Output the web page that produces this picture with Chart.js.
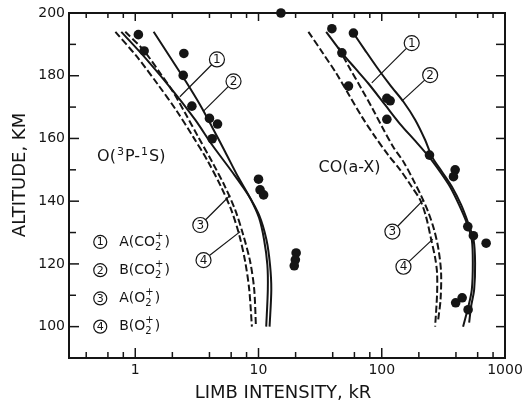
<!DOCTYPE html>
<html>
<head>
<meta charset="utf-8">
<script src="https://cdn.jsdelivr.net/npm/chart.js@4.4.1/dist/chart.umd.min.js"></script>
<style>
  html, body { margin: 0; padding: 0; background: #fff; }
  #box { width: 531px; height: 405px; }
</style>
</head>
<body>
<div id="box"><canvas id="grafico"></canvas></div>
<script>
// curve di modello: [intensita' kR, quota km]
// O(3P-1S)
var oCurve1 = [[0.77,194],[1.25,185],[2.03,175.1],[3.07,165.9],[4.21,157.9],[6.12,149.3],[8.25,142],[10.1,135.6],[11.6,127.7],[12.4,119.7],[12.7,111.8],[12.3,100]];
var oCurve2 = [[1.41,194],[1.92,185.9],[2.59,178],[3.37,170.6],[4.21,163.6],[5.37,155.7],[6.84,147.7],[8.56,141],[10.1,134.7],[11.1,127.7],[11.8,119.7],[11.9,111.8],[11.55,100]];
var oCurve3 = [[0.69,194],[1.04,185.9],[1.54,177],[2.15,169],[2.95,160.5],[3.91,152.5],[4.98,144.5],[6.01,137.2],[6.97,129.3],[7.8,120.7],[8.41,111.8],[8.84,100]];
var oCurve4 = [[0.83,194],[1.17,188.1],[1.6,180.7],[2.03,174.8],[2.54,168.1],[3.24,160.5],[4.21,152.5],[5.37,144.5],[6.47,137.2],[7.51,129.3],[8.56,120.7],[9.23,111.8],[9.53,100]];
// CO(a-X)
var coCurve1 = [[35.4,194],[47.5,187.3],[60.8,182.4],[77.6,177.6],[107,170.6],[141,164.6],[187,159.2],[242,154.1],[298,149.3],[359,144.5],[424,138.8],[490,133],[538,127.7],[548,120.3],[538,111.8],[505,106.5],[457,100]];
var coCurve2 = [[58.9,193.6],[73.3,188.1],[91.3,182.7],[117,177],[150,171.7],[187,165.9],[225,159.5],[256,154.1],[309,149.3],[372,144.5],[441,138.8],[502,133.1],[556,127.7],[572,120.3],[562,111.8],[531,106.5],[512,101.3]];
var coCurve3 = [[25.4,194],[32.9,187.5],[42.7,180.8],[54.4,173.8],[69.3,166.8],[88.4,160.5],[113,154.7],[141,150],[173,144.9],[205,140.4],[229,135],[252,127.7],[271,122],[281,117.2],[281,110.2],[271,100]];
var coCurve4 = [[44.3,189.1],[54.4,182.7],[68.1,176],[83.6,169.7],[101,163.6],[124,157.3],[152,152.2],[180,146.8],[209,141.7],[238,136.6],[266,130.9],[289,124.5],[303,117.2],[300,108.6],[287,102.2]];

// misure (punti neri)
var oDots = [[1.06,193.1],[1.18,187.9],[2.48,187.1],[2.45,180.1],[2.88,170.3],[4.0,166.4],[4.65,164.6],[4.21,159.9],[10.0,147],[10.3,143.6],[11.0,142],[20.2,123.5],[19.9,121.3],[19.5,119.4],[15.2,200]];
var coDots = [[39.4,195],[58.9,193.6],[47.5,187.3],[53.7,176.7],[110,172.8],[117,172],[110,166.1],[244,154.7],[394,150],[382,147.8],[499,131.9],[554,129],[703,126.6],[398,107.6],[449,109.2],[502,105.4]];

// assi
var xLabels = [1, 10, 100, 1000];
var xMinor = [0.4, 0.6, 0.8, 2, 4, 6, 8, 20, 40, 60, 80, 200, 400, 600, 800];
var yLabels = [100, 120, 140, 160, 180, 200];
var yMinor = [110, 130, 150, 170, 190];

// legenda
var legendNums = ['1', '2', '3', '4'];
var legendNames = ['A(CO', 'B(CO', 'A(O', 'B(O'];

// etichette cerchiate con freccia: posizione del cerchio e punto indicato
var oTags = [
  {n: '1', at: [4.6, 185.2], to: [2.3, 173.3]},
  {n: '2', at: [6.27, 178.2], to: [3.58, 168.7]},
  {n: '3', at: [3.37, 132.4], to: [5.89, 141.9]},
  {n: '4', at: [3.58, 121.2], to: [7.1, 130.3]}
];
var coTags = [
  {n: '1', at: [175, 190.4], to: [83, 177.7]},
  {n: '2', at: [247, 180.2], to: [145.5, 171.9]},
  {n: '3', at: [122, 130.3], to: [218, 140.4]},
  {n: '4', at: [150, 119.1], to: [259.6, 127.9]}
];

var ink = '#151515';
var fam = '"DejaVu Sans", sans-serif';

function punti(arr) {
  return arr.map(function(p){ return {x: p[0], y: p[1]}; });
}

function curva(arr, tratteggio) {
  return {
    type: 'line',
    data: punti(arr),
    showLine: true,
    borderColor: ink,
    borderWidth: 2,
    borderDash: tratteggio ? [7, 3] : [],
    pointRadius: 0,
    tension: 0.3,
    fill: false
  };
}

function puntini(arr) {
  return {
    type: 'scatter',
    data: punti(arr),
    pointRadius: 4.8,
    pointBackgroundColor: ink,
    pointBorderColor: ink,
    pointBorderWidth: 0,
    clip: false
  };
}

function linea(ctx, x1, y1, x2, y2) {
  ctx.beginPath();
  ctx.moveTo(x1, y1);
  ctx.lineTo(x2, y2);
  ctx.stroke();
}

function cerchietto(ctx, x, y, r, n, size) {
  ctx.beginPath();
  ctx.arc(x, y, r, 0, Math.PI * 2);
  ctx.fillStyle = '#fff';
  ctx.fill();
  ctx.stroke();
  ctx.fillStyle = ink;
  ctx.font = size + 'px ' + fam;
  ctx.textAlign = 'center';
  ctx.textBaseline = 'middle';
  ctx.fillText(n, x, y + 0.5);
}

// scrive pezzi di testo con apici/pedici
function formula(ctx, x, y, pezzi) {
  ctx.textAlign = 'left';
  ctx.textBaseline = 'middle';
  pezzi.forEach(function(p) {
    ctx.font = p.s + 'px ' + fam;
    var w = ctx.measureText(p.t).width;
    ctx.fillText(p.t, x, y + (p.dy || 0));
    if (p.su) {
      ctx.fillText(p.su, x, y - 6);
      w = Math.max(w, ctx.measureText(p.su).width);
    }
    x += w + (p.gap || 0);
  });
}

var decorazioni = {
  id: 'decorazioni',
  afterDraw: function(chart) {
    var ctx = chart.ctx;
    var a = chart.chartArea;
    var sx = chart.scales.x, sy = chart.scales.y;
    ctx.save();
    ctx.strokeStyle = ink;
    ctx.fillStyle = ink;

    // cornice
    ctx.lineWidth = 2;
    ctx.strokeRect(a.left, a.top, a.right - a.left, a.bottom - a.top);

    // tacche verso l'interno
    ctx.lineWidth = 1.5;
    xLabels.forEach(function(v) {
      var p = sx.getPixelForValue(v);
      linea(ctx, p, a.bottom, p, a.bottom - 10);
      linea(ctx, p, a.top, p, a.top + 8);
    });
    xMinor.forEach(function(v) {
      var p = sx.getPixelForValue(v);
      linea(ctx, p, a.bottom, p, a.bottom - 6);
      linea(ctx, p, a.top, p, a.top + 5);
    });
    yLabels.forEach(function(v) {
      var p = sy.getPixelForValue(v);
      linea(ctx, a.left, p, a.left + 10, p);
      linea(ctx, a.right, p, a.right - 9, p);
    });
    yMinor.forEach(function(v) {
      var p = sy.getPixelForValue(v);
      linea(ctx, a.left, p, a.left + 7, p);
      linea(ctx, a.right, p, a.right - 9, p);
    });

    // titoli degli assi
    ctx.font = '18px ' + fam;
    ctx.textAlign = 'center';
    ctx.textBaseline = 'middle';
    ctx.fillText('LIMB INTENSITY, kR', (a.left + a.right) / 2 - 4, 393);
    ctx.save();
    ctx.translate(20, a.top + 162);
    ctx.rotate(-Math.PI / 2);
    ctx.fillText('ALTITUDE, KM', 0, 0);
    ctx.restore();

    // etichette cerchiate con freccia
    ctx.lineWidth = 1.2;
    oTags.concat(coTags).forEach(function(t) {
      var cx = sx.getPixelForValue(t.at[0]), cy = sy.getPixelForValue(t.at[1]);
      var tx = sx.getPixelForValue(t.to[0]), ty = sy.getPixelForValue(t.to[1]);
      var d = Math.hypot(tx - cx, ty - cy), r = 7.5;
      linea(ctx, cx + (tx - cx) * r / d, cy + (ty - cy) * r / d, tx, ty);
      cerchietto(ctx, cx, cy, r, t.n, 12);
    });

    // legenda
    legendNums.forEach(function(n, i) {
      var cx = sx.getPixelForValue(0.52);
      var cy = sy.getPixelForValue(127 - i * 9);
      ctx.lineWidth = 1.2;
      cerchietto(ctx, cx, cy, 6.5, n, 11);
      ctx.fillStyle = ink;
      formula(ctx, cx + 19, cy, [
        {t: legendNames[i], s: 14},
        {t: '2', s: 10, dy: 5, su: '+', gap: 1},
        {t: ')', s: 14}
      ]);
    });

    // nomi delle emissioni
    formula(ctx, sx.getPixelForValue(0.49), sy.getPixelForValue(154), [
      {t: 'O(', s: 16, gap: 1},
      {t: '3', s: 11, dy: -5, gap: 1},
      {t: 'P-', s: 16, gap: 1},
      {t: '1', s: 11, dy: -5, gap: 1},
      {t: 'S)', s: 16}
    ]);
    formula(ctx, sx.getPixelForValue(30.7), sy.getPixelForValue(150.7), [
      {t: 'CO(a-X)', s: 16}
    ]);

    ctx.restore();
  }
};

var ctx = document.getElementById('grafico');
var chart = new Chart(ctx, {
  type: 'scatter',
  data: {
    datasets: [
      curva(oCurve1, false),
      curva(oCurve2, false),
      curva(oCurve3, true),
      curva(oCurve4, true),
      curva(coCurve1, false),
      curva(coCurve2, false),
      curva(coCurve3, true),
      curva(coCurve4, true),
      puntini(oDots),
      puntini(coDots)
    ]
  },
  options: {
    responsive: true,
    maintainAspectRatio: false,
    animation: false,
    layout: { padding: { top: 13, right: 26, left: 0, bottom: 0 } },
    plugins: {
      legend: { display: false },
      tooltip: { enabled: false }
    },
    scales: {
      x: {
        type: 'logarithmic',
        min: 0.29,
        max: 1000,
        afterBuildTicks: function(s) {
          s.ticks = xLabels.map(function(v){ return {value: v}; });
        },
        afterFit: function(s) { s.height = 47; },
        grid: { display: false, drawTicks: false },
        border: { display: false },
        ticks: {
          color: ink,
          padding: 4,
          maxRotation: 0,
          autoSkip: false,
          font: { family: fam, size: 14 },
          callback: function(v) { return String(v); }
        }
      },
      y: {
        min: 90,
        max: 200,
        afterBuildTicks: function(s) {
          s.ticks = yLabels.map(function(v){ return {value: v}; });
        },
        afterFit: function(s) { s.width = 69; },
        grid: { display: false, drawTicks: false },
        border: { display: false },
        ticks: {
          color: ink,
          padding: 4,
          font: { family: fam, size: 14 }
        }
      }
    }
  },
  plugins: [decorazioni]
});
</script>
</body>
</html>
